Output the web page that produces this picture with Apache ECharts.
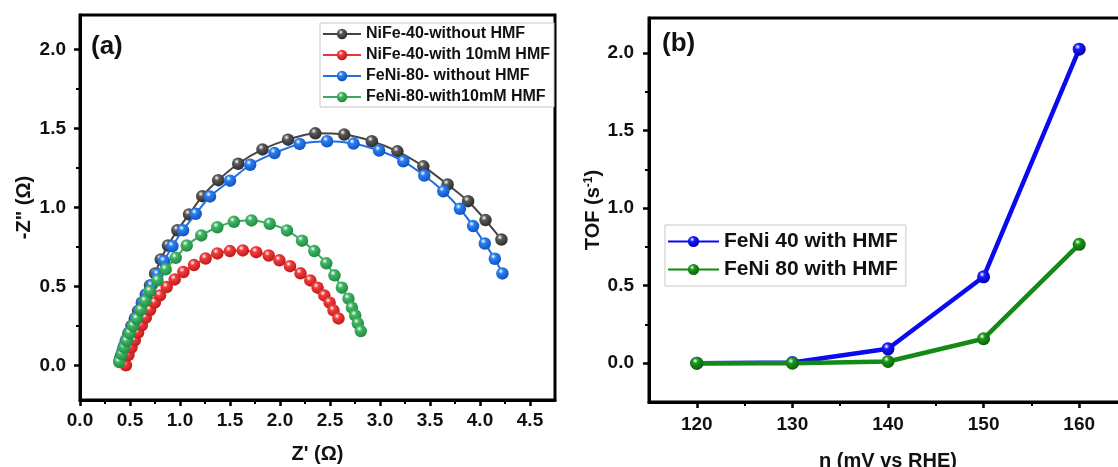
<!DOCTYPE html>
<html>
<head>
<meta charset="utf-8">
<style>
  html, body { margin: 0; padding: 0; background: #fff; }
  #chart { width: 1118px; height: 467px; }
</style>
<script src="https://cdn.jsdelivr.net/npm/echarts@6/dist/echarts.min.js"></script>
</head>
<body>
<div id="chart"></div>
<script>
/* ============================================================
   (a) Nyquist plot  +  (b) TOF vs overpotential
   ============================================================ */

// ---- (a) Nyquist data, [Z', -Z''] in ohm ----
var nife40NoHmf = [
  [0.41, 0.06], [0.435, 0.112], [0.459, 0.154], [0.485, 0.203], [0.515, 0.249],
  [0.548, 0.296], [0.581, 0.344], [0.618, 0.397], [0.658, 0.449], [0.70, 0.506],
  [0.751, 0.582], [0.808, 0.671], [0.88, 0.759], [0.974, 0.856], [1.09, 0.956],
  [1.223, 1.072], [1.382, 1.173], [1.582, 1.277], [1.825, 1.368], [2.08, 1.43],
  [2.353, 1.47], [2.642, 1.462], [2.918, 1.42], [3.174, 1.356], [3.433, 1.261],
  [3.676, 1.146], [3.881, 1.04], [4.055, 0.92], [4.214, 0.797]
];
var nife40Hmf = [
  [0.459, 0.0], [0.485, 0.065], [0.515, 0.112], [0.548, 0.158], [0.581, 0.207],
  [0.618, 0.253], [0.658, 0.302], [0.70, 0.35], [0.748, 0.397], [0.80, 0.443],
  [0.867, 0.496], [0.947, 0.544], [1.034, 0.591], [1.14, 0.635], [1.256, 0.677],
  [1.373, 0.709], [1.499, 0.724], [1.628, 0.728], [1.762, 0.717], [1.887, 0.696],
  [1.994, 0.665], [2.10, 0.628], [2.205, 0.583], [2.303, 0.538], [2.376, 0.492],
  [2.443, 0.443], [2.496, 0.397], [2.535, 0.348], [2.585, 0.297]
];
var feni80NoHmf = [
  [0.399, 0.038], [0.419, 0.08], [0.442, 0.122], [0.466, 0.165], [0.492, 0.207],
  [0.525, 0.253], [0.558, 0.302], [0.591, 0.348], [0.625, 0.397], [0.668, 0.449],
  [0.715, 0.506], [0.775, 0.576], [0.84, 0.66], [0.924, 0.755], [1.03, 0.856],
  [1.157, 0.96], [1.30, 1.07], [1.50, 1.17], [1.702, 1.271], [1.945, 1.345],
  [2.196, 1.403], [2.47, 1.42], [2.735, 1.405], [2.991, 1.361], [3.233, 1.293],
  [3.443, 1.203], [3.633, 1.103], [3.799, 0.992], [3.931, 0.882], [4.048, 0.772],
  [4.148, 0.675], [4.224, 0.582]
];
var feni80Hmf = [
  [0.392, 0.021], [0.419, 0.07], [0.442, 0.112], [0.466, 0.154], [0.498, 0.203],
  [0.531, 0.249], [0.568, 0.295], [0.608, 0.35], [0.651, 0.407], [0.70, 0.47],
  [0.775, 0.538], [0.857, 0.608], [0.957, 0.681], [1.067, 0.759], [1.213, 0.823],
  [1.373, 0.875], [1.539, 0.909], [1.715, 0.918], [1.897, 0.897], [2.07, 0.855],
  [2.22, 0.79], [2.343, 0.724], [2.463, 0.646], [2.545, 0.57], [2.619, 0.492],
  [2.685, 0.422], [2.719, 0.365], [2.752, 0.316], [2.778, 0.266], [2.808, 0.217]
];
var nyqNames  = ["NiFe-40-without HMF", "NiFe-40-with 10mM HMF", "FeNi-80- without HMF", "FeNi-80-with10mM HMF"];
var nyqXTicks = [0, 0.5, 1, 1.5, 2, 2.5, 3, 3.5, 4, 4.5];
var nyqYTicks = [0, 0.5, 1, 1.5, 2];

// ---- (b) TOF data ----
var tofEta    = [120, 130, 140, 150, 160];
var tofFeni40 = [0, 0.004, 0.093, 0.557, 2.024];
var tofFeni80 = [0, 0, 0.011, 0.158, 0.766];
var tofNames  = ["FeNi 40 with HMF", "FeNi 80 with HMF"];
var tofXTicks = [120, 130, 140, 150, 160];
var tofYTicks = [0, 0.5, 1, 1.5, 2];

var FONT = "'Liberation Sans', Arial, sans-serif";

// 小球 marker：径向渐变做高光
function ball(c, dark) {
  return {
    type: "radial", x: 0.38, y: 0.32, r: 0.7,
    colorStops: [
      { offset: 0, color: "#ffffff" },
      { offset: 0.3, color: c },
      { offset: 1, color: dark }
    ]
  };
}

// minor ticks sit half way between labelled ticks
function mids(ticks) {
  var out = [];
  for (var i = 0; i < ticks.length - 1; i++) out.push((ticks[i] + ticks[i + 1]) / 2);
  return out;
}

// one labelled axis + one overlay axis that only carries the short ticks
function axisPair(dim, grid, min, max, ticks, name, nameGap, labelMargin) {
  var major = {
    type: "value", gridIndex: grid, min: min, max: max,
    position: dim === "x" ? "bottom" : "left",
    name: name, nameLocation: "middle", nameGap: nameGap,
    nameTextStyle: {
      fontFamily: FONT, fontWeight: "bold", fontSize: 20, color: "#111",
      rich: { sup: { fontFamily: FONT, fontWeight: "bold", fontSize: 12, color: "#111", padding: [0, 0, 9, 0] } }
    },
    axisLine: { show: true, onZero: false, lineStyle: { color: "#000", width: 3 } },
    axisTick: { show: true, customValues: ticks, length: 6, lineStyle: { color: "#000", width: 2.5 } },
    axisLabel: {
      customValues: ticks, margin: labelMargin,
      fontFamily: FONT, fontWeight: "bold", fontSize: 19, color: "#111",
      formatter: function (v) { return max > 10 ? String(v) : v.toFixed(1); }
    },
    splitLine: { show: false }
  };
  var minor = {
    type: "value", gridIndex: grid, min: min, max: max,
    position: major.position,
    axisLine: { show: false, onZero: false },
    axisTick: { show: true, customValues: mids(ticks), length: 4, lineStyle: { color: "#000", width: 2 } },
    axisLabel: { show: false },
    splitLine: { show: false }
  };
  return [major, minor];
}

var xA = axisPair("x", 0, 0, 4.75, nyqXTicks, "Z' (\u03A9)", 44, 11);
var yA = axisPair("y", 0, -0.22, 2.22, nyqYTicks, '-Z" (\u03A9)', 46, 14);
var xB = axisPair("x", 1, 115, 165, tofXTicks, "\u03B7 (mV vs RHE)", 49, 13);
var yB = axisPair("y", 1, -0.25, 2.225, tofYTicks, "TOF (s{sup|-1})", 44, 15);

function nyqSeries(i, data, line, c, dark) {
  return {
    type: "line", name: nyqNames[i], xAxisIndex: 0, yAxisIndex: 0,
    data: data, symbol: "circle", symbolSize: 12.5, smooth: 0.2,
    lineStyle: { color: line, width: 2 },
    itemStyle: { color: ball(c, dark) },
    z: 3 + i
  };
}

function tofSeries(i, vals, line, c, dark) {
  return {
    type: "line", name: tofNames[i], xAxisIndex: 2, yAxisIndex: 2,
    data: tofEta.map(function (e, k) { return [e, vals[k]]; }),
    symbol: "circle", symbolSize: 13,
    lineStyle: { color: line, width: 4.5 },
    itemStyle: { color: ball(c, dark) },
    z: 3 + i
  };
}

var chart = echarts.init(document.getElementById("chart"), null, { renderer: "canvas" });

chart.setOption({
  animation: false,
  backgroundColor: "#fff",
  grid: [
    { left: 80, top: 15, width: 475, height: 385, outerBoundsMode: "none",
      show: true, borderColor: "#000", borderWidth: 3 },
    // right edge of (b) runs past the canvas, as in the figure
    { left: 649, top: 18, width: 478, height: 384, outerBoundsMode: "none",
      show: true, borderColor: "#000", borderWidth: 3 }
  ],
  xAxis: [xA[0], xA[1], xB[0], xB[1]],
  yAxis: [yA[0], yA[1], yB[0], yB[1]],
  legend: [
    {
      data: nyqNames, left: 320, top: 23, orient: "vertical",
      itemWidth: 38, itemHeight: 13, itemGap: 5, itemTextGap: 5,
      padding: [3, 4, 2, 2], borderColor: "#c8c8c8", borderWidth: 1,
      backgroundColor: "#fff",
      textStyle: { fontFamily: FONT, fontWeight: "bold", fontSize: 16, lineHeight: 16, color: "#111" }
    },
    {
      data: tofNames, left: 665, top: 225, orient: "vertical",
      itemWidth: 51, itemHeight: 14, itemGap: 7, itemTextGap: 5,
      padding: [6, 8, 6, 2], borderColor: "#c8c8c8", borderWidth: 1,
      backgroundColor: "#fff",
      textStyle: { fontFamily: FONT, fontWeight: "bold", fontSize: 21, lineHeight: 20, color: "#111" }
    }
  ],
  graphic: [
    { type: "text", left: 91, top: 34, style: { text: "(a)", fontFamily: FONT, fontWeight: "bold", fontSize: 26, fill: "#111" } },
    { type: "text", left: 662, top: 31, style: { text: "(b)", fontFamily: FONT, fontWeight: "bold", fontSize: 26, fill: "#111" } }
  ],
  series: [
    nyqSeries(0, nife40NoHmf, "#444444", "#5a5a5a", "#2a2a2a"),
    nyqSeries(1, nife40Hmf,   "#e8353a", "#f03c3c", "#c01818"),
    nyqSeries(2, feni80NoHmf, "#1f6fe0", "#2a7ff0", "#1050c0"),
    nyqSeries(3, feni80Hmf,   "#3aab5e", "#40b565", "#1f8a40"),
    tofSeries(0, tofFeni40, "#0a0af0", "#1a1aff", "#0000b0"),
    tofSeries(1, tofFeni80, "#138a13", "#1a991a", "#0a600a")
  ]
});
</script>
</body>
</html>
